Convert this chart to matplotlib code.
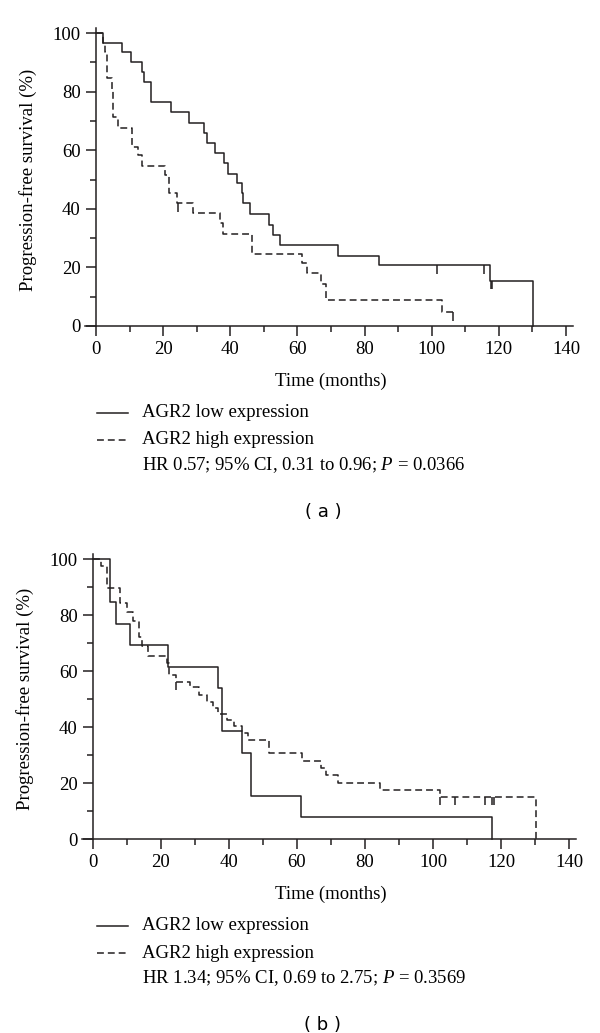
import numpy as np
import matplotlib.pyplot as plt
from matplotlib.lines import Line2D

# Panel (a) - Kaplan-Meier steps (months, % surviving)
a_low_t = [0, 2.2, 7.6, 10.3, 13.6, 14.4, 16.4, 22.2, 27.8, 32.2, 33.2, 35.5, 38.2, 39.2,
           41.9, 43.4, 43.9, 45.9, 51.6, 52.6, 54.8, 72.0, 84.3, 117.4, 130.3]
a_low_s = [100, 96.7, 93.4, 90.1, 86.8, 83.4, 76.6, 72.9, 69.4, 65.8, 62.6, 58.9, 55.5, 51.9,
           48.9, 45.3, 41.9, 38.1, 34.5, 31.1, 27.6, 24.0, 20.8, 15.5, 0]
a_low_cens_t = [101.7, 115.6, 117.7, 118.1]
a_low_cens_s = [20.8, 20.8, 15.5, 15.5]

a_high_t = [0, 2.2, 2.7, 3.4, 4.7, 5.0, 6.7, 10.6, 12.4, 13.6, 20.6, 21.8, 24.2, 28.8,
            36.9, 37.9, 46.6, 61.5, 62.8, 67.0, 68.5, 103.2, 106.4]
a_high_s = [100, 96.7, 93.4, 84.5, 80.5, 71.4, 67.7, 61.2, 58.4, 54.7, 51.5, 45.3, 41.9, 38.5,
            35.0, 31.4, 24.6, 21.4, 18.1, 14.4, 9.0, 4.8, 4.8]
a_high_cens_t = [24.3, 106.4]
a_high_cens_s = [41.9, 4.8]

a_stats = "HR 0.57; 95% CI, 0.31 to 0.96; $\\mathit{P}$ = 0.0366"

# Panel (b)
b_low_t = [0, 5.0, 6.8, 10.9, 22.2, 36.9, 38.0, 43.7, 46.5, 61.1, 117.3]
b_low_s = [100, 84.6, 76.9, 69.2, 61.5, 53.8, 38.5, 30.8, 15.4, 7.7, 0]
b_low_cens_t = []
b_low_cens_s = []

b_high_t = [0, 2.4, 4.0, 8.0, 9.9, 11.7, 13.5, 14.3, 16.3, 21.7, 22.4, 24.3, 28.5, 31.2,
            33.4, 35.4, 36.9, 39.3, 41.5, 43.7, 45.7, 51.8, 61.5, 67.0, 68.4, 72.1, 84.5,
            102.0, 130.3]
b_high_s = [100, 97.4, 89.7, 84.2, 81.0, 78.0, 72.0, 69.0, 65.5, 62.7, 58.6, 56.2, 54.4, 51.4,
            49.0, 46.7, 44.6, 42.5, 40.5, 38.0, 35.4, 30.6, 28.0, 25.4, 22.7, 20.1, 17.6,
            15.0, 0]
b_high_cens_t = [24.3, 102.0, 106.6, 115.3, 117.4, 118.0]
b_high_cens_s = [56.2, 15.0, 15.0, 15.0, 15.0, 15.0]

b_stats = "HR 1.34; 95% CI, 0.69 to 2.75; $\\mathit{P}$ = 0.3569"

legend_labels = ["AGR2 low expression", "AGR2 high expression"]
x_ticks = [0, 20, 40, 60, 80, 100, 120, 140]
y_ticks = [0, 20, 40, 60, 80, 100]

W, H = 600, 1033
INK = "#231f20"
DASH = (0, (4.5, 2.6))
SERIF = "Liberation Serif"

plt.rcParams["font.family"] = SERIF
plt.rcParams["mathtext.fontset"] = "custom"
plt.rcParams["mathtext.rm"] = SERIF
plt.rcParams["mathtext.it"] = SERIF + ":italic"

fig = plt.figure(figsize=(W / 100, H / 100), dpi=100)


def fx(px):
    return px / W


def fy(py):
    return 1 - py / H


def panel(x0, y0, pxm, pyp, low, high, stats, tag, ytxt):
    # axes rect from pixel scale: x0/y0 = pixel of data origin
    xmin, xmax, ymax = -3.3, 142, 101.7
    left = x0 + xmin * pxm
    right = x0 + xmax * pxm
    top = y0 - ymax * pyp
    ax = fig.add_axes([fx(left), fy(y0), (right - left) / W, (y0 - top) / H])
    ax.set_xlim(xmin, xmax)
    ax.set_ylim(0, ymax)

    t, s, ct, cs = low
    ax.step(t, s, where="post", color=INK, lw=1.1, clip_on=False)
    if ct:
        ax.vlines(ct, np.array(cs) - 3, cs, color=INK, lw=1.1)
    t, s, ct, cs = high
    ax.step(t, s, where="post", color=INK, lw=1.1, linestyle=DASH, clip_on=False)
    if ct:
        ax.vlines(ct, np.array(cs) - 3, cs, color=INK, lw=1.1)

    for side in ["top", "right"]:
        ax.spines[side].set_visible(False)
    ax.spines["left"].set_position(("data", 0))
    for side in ["left", "bottom"]:
        ax.spines[side].set_linewidth(1.1)
        ax.spines[side].set_color(INK)
    ax.set_xticks(x_ticks)
    ax.set_xticks(np.arange(10, 140, 20), minor=True)
    ax.set_yticks(y_ticks)
    ax.set_yticks(np.arange(10, 100, 20), minor=True)
    ax.tick_params(which="major", length=7, width=1.1, color=INK, labelsize=13.5, pad=4)
    ax.tick_params(which="minor", length=4, width=1.1, color=INK)

    # axis titles
    fig.text(fx(ytxt), fy(y0 - 50 * pyp), "Progression-free survival (%)", rotation=90,
             ha="center", va="center", fontsize=13.5)
    fig.text(fx(x0 + 70 * pxm), fy(y0 + 55), "Time (months)", ha="center", va="center",
             fontsize=13.5)

    # legend block under the axis
    ly = [y0 + 87, y0 + 114]
    fig.add_artist(Line2D([fx(97), fx(128)], [fy(ly[0])] * 2, color=INK, lw=1.1))
    fig.add_artist(Line2D([fx(97), fx(128)], [fy(ly[1])] * 2, color=INK, lw=1.1,
                          linestyle=DASH))
    for yy, lab in zip(ly, legend_labels):
        fig.text(fx(142), fy(yy), lab, ha="left", va="center", fontsize=13.5)
    fig.text(fx(142), fy(y0 + 139), stats, ha="left", va="center", fontsize=13.5)
    fig.text(fx(323), fy(y0 + 186), tag, ha="center", va="center", fontsize=13,
             family="DejaVu Sans")
    return ax


panel(96, 326, 3.357, 2.93,
      (a_low_t, a_low_s, a_low_cens_t, a_low_cens_s),
      (a_high_t, a_high_s, a_high_cens_t, a_high_cens_s),
      a_stats, "( a )", 28)
panel(93, 839, 3.4, 2.8,
      (b_low_t, b_low_s, b_low_cens_t, b_low_cens_s),
      (b_high_t, b_high_s, b_high_cens_t, b_high_cens_s),
      b_stats, "( b )", 25)

fig.savefig("out.png", dpi=100, facecolor="white")
